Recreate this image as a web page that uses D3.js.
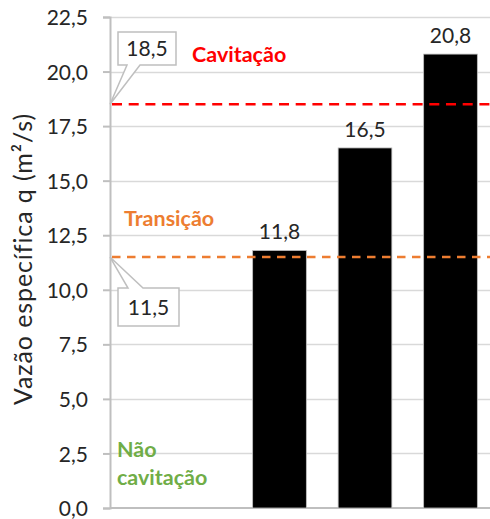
<!DOCTYPE html>
<html>
<head>
<meta charset="utf-8">
<script src="https://cdn.jsdelivr.net/npm/d3@7"></script>
<style>
  html, body { margin: 0; padding: 0; background: #fff; }
  svg { display: block; font-family: Lato, "Open Sans", sans-serif; }
</style>
</head>
<body>
<svg id="chart" width="490" height="519"></svg>
<script>
// Category slots along x (the first two are empty), the slots holding bars, and their values
const slots = [0, 1, 2, 3, 4];
const barSlots = [2, 3, 4];
const values = [11.8, 16.5, 20.8];

// y-axis ticks
const yTicks = [0, 2.5, 5, 7.5, 10, 12.5, 15, 17.5, 20, 22.5];

// Threshold lines and their zone labels
const thresholds = [18.5, 11.5];
const thresholdColors = ["#FF0000", "#ED7D31"];
const zoneNames = ["Cavitação", "Transição", "Não cavitação"];
const zoneColors = ["#FF0000", "#ED7D31", "#70AD47"];

const yTitle = "Vazão específica q (m²/s)";

const fmt = v => d3.format(".1f")(v).replace(".", ",");

const svg = d3.select("#chart");
const plotLeft = 110, plotRight = 490, plotTop = 17, plotBottom = 508;

const y = d3.scaleLinear().domain([0, 22.5]).range([plotBottom, plotTop]);
const x = d3.scalePoint().domain(slots).range([108.5, 450.5]);
const barW = 53.7;

// gridlines
svg.append("g")
  .selectAll("line")
  .data(yTicks.filter(t => t > 0))
  .join("line")
  .attr("x1", plotLeft).attr("x2", plotRight)
  .attr("y1", d => Math.round(y(d)) + 0.5).attr("y2", d => Math.round(y(d)) + 0.5)
  .attr("stroke", "#D9D9D9").attr("stroke-width", 1.5);

// y axis
const yAxis = d3.axisLeft(y).tickValues(yTicks).tickFormat(fmt).tickSize(7).tickPadding(15);
const gy = svg.append("g").attr("transform", `translate(${plotLeft},0)`).call(yAxis);
gy.select(".domain").attr("stroke", "#BFBFBF").attr("stroke-width", 2);
gy.selectAll(".tick line").attr("stroke", "#BFBFBF").attr("stroke-width", 2);
gy.selectAll(".tick text")
  .attr("fill", "#262626")
  .style("font-size", "21px")
  .style("font-family", "Lato, sans-serif")
  .attr("dy", "0.36em");

// x axis baseline
svg.append("line")
  .attr("x1", plotLeft).attr("x2", plotRight)
  .attr("y1", y(0)).attr("y2", y(0))
  .attr("stroke", "#BFBFBF").attr("stroke-width", 2);

// bars
const bars = values.map((v, i) => ({ v, slot: barSlots[i] }));
svg.append("g")
  .selectAll("rect")
  .data(bars)
  .join("rect")
  .attr("x", d => x(d.slot) - barW / 2)
  .attr("width", barW)
  .attr("y", d => y(d.v))
  .attr("height", d => y(0) - y(d.v))
  .attr("fill", "#000")
  .attr("stroke", "#BFBFBF")
  .attr("stroke-width", 0.8);

// value labels
svg.append("g")
  .selectAll("text")
  .data(bars)
  .join("text")
  .attr("x", d => x(d.slot))
  .attr("y", d => y(d.v) - 11)
  .attr("text-anchor", "middle")
  .attr("fill", "#262626")
  .style("font-size", "21px")
  .text(d => fmt(d.v));

// dashed threshold lines
svg.append("g")
  .selectAll("line")
  .data(thresholds)
  .join("line")
  .attr("x1", plotLeft + 2).attr("x2", plotRight)
  .attr("y1", d => y(d)).attr("y2", d => y(d))
  .attr("stroke", (d, i) => thresholdColors[i])
  .attr("stroke-width", 2.5)
  .attr("stroke-dasharray", (d, i) => i === 0 ? "10,6.7" : "8.5,6.5");

// zone labels
const zoneText = svg.append("g").style("font-weight", "bold").style("font-size", "21.5px");
zoneText.append("text").attr("x", 192).attr("y", 62).attr("fill", zoneColors[0]).text(zoneNames[0]);
zoneText.append("text").attr("x", 124).attr("y", 226).attr("fill", zoneColors[1]).text(zoneNames[1]);
const nc = zoneNames[2].split(" ");
zoneText.append("text").attr("x", 117).attr("y", 457).attr("fill", zoneColors[2]).text(nc[0]);
zoneText.append("text").attr("x", 117).attr("y", 485).attr("fill", zoneColors[2]).text(nc[1]);

// callouts pointing at the threshold values on the axis
function callout(value, bx, by, bw, bh, pointerOnTop, px1, px2) {
  const g = svg.append("g");
  const ax = plotLeft, ay = y(value);
  let path;
  if (!pointerOnTop) {
    path = `M${bx},${by} H${bx + bw} V${by + bh} H${px2} L${ax},${ay} L${px1},${by + bh} H${bx} Z`;
  } else {
    path = `M${bx},${by} H${px1} L${ax},${ay} L${px2},${by} H${bx + bw} V${by + bh} H${bx} Z`;
  }
  g.append("path").attr("d", path).attr("fill", "#fff").attr("stroke", "#BFBFBF").attr("stroke-width", 1.5);
  g.append("text")
    .attr("x", bx + bw / 2).attr("y", by + bh / 2)
    .attr("dy", "0.36em")
    .attr("text-anchor", "middle")
    .attr("fill", "#262626")
    .style("font-size", "21px")
    .text(fmt(value));
}
callout(thresholds[0], 118, 32, 58, 33, false, 127, 140);
callout(thresholds[1], 118, 288, 61, 38, true, 128, 143);

// y-axis title
svg.append("text")
  .attr("transform", `translate(32, 259) rotate(-90)`)
  .attr("text-anchor", "middle")
  .attr("fill", "#262626")
  .style("font-size", "25px")
  .style("letter-spacing", "0.9px")
  .text(yTitle);
</script>
</body>
</html>
